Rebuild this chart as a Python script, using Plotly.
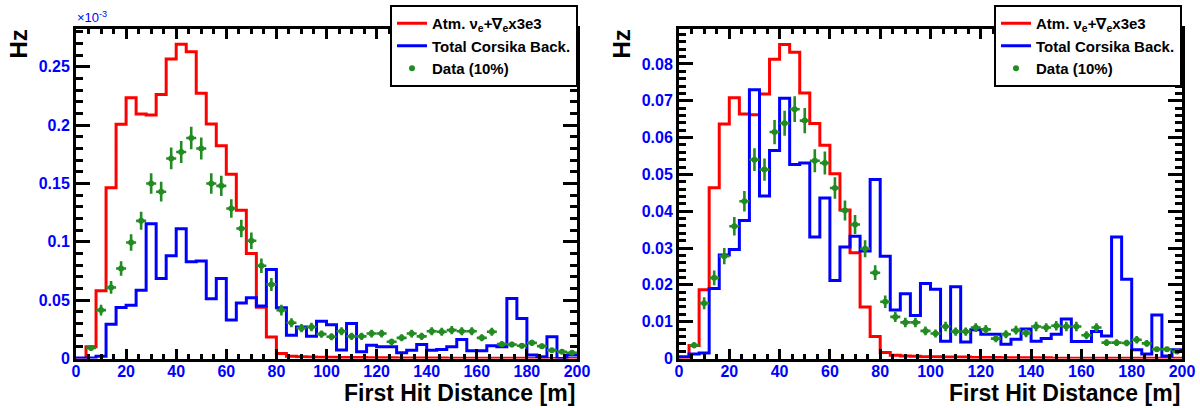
import plotly.graph_objects as go

# ---------------- data ----------------
bin_edges = list(range(0, 201, 4))            # 50 bins of 4 m
bin_centers = [e + 2 for e in bin_edges[:-1]]

left_atm = [0, 0.010, 0.058, 0.1464, 0.2007, 0.2236, 0.2095, 0.2087, 0.2264, 0.2567,
            0.2693, 0.263, 0.2273, 0.201, 0.1824, 0.158, 0.127, 0.090, 0.044, 0.0185,
            0.0043, 0.002, 0.0015, 0.0012, 0.0010, 0.0010, 0.0009, 0.0008, 0.0008, 0.0007,
            0.0006, 0.0006, 0.0005, 0.0005, 0.0004, 0.0004, 0.0004, 0.0003, 0.0003, 0.0003,
            0.0003, 0.0002, 0.0002, 0.0002, 0.0002, 0.0001, 0.0001, 0.0001, 0.0001, 0.0001]
left_corsika = [0.0005, 0.0005, 0.002, 0.0294, 0.0437, 0.0457, 0.0586, 0.1155, 0.0686, 0.088,
                0.1112, 0.0829, 0.0835, 0.0512, 0.0686, 0.0329, 0.0475, 0.052, 0.0449, 0.0763,
                0.0435, 0.020, 0.027, 0.019, 0.032, 0.029, 0.0072, 0.030, 0.0057, 0.0114,
                0.010, 0.010, 0.0049, 0.0071, 0.012, 0.0071, 0.0077, 0.010, 0.0163, 0.0066,
                0.0066, 0.011, 0.010, 0.0515, 0.0343, 0.0029, 0.0014, 0.0186, 0.0, 0.0029]
left_data = [None, 0.0091, 0.0415, 0.0609, 0.0772, 0.0995, 0.118, 0.150, 0.143, 0.1715,
             0.177, 0.189, 0.180, 0.150, 0.148, 0.1286, 0.1115, 0.101, 0.0795, 0.0635,
             0.0415, 0.0306, 0.026, 0.027, 0.0209, 0.0186, 0.0234, 0.019, 0.019, 0.0214,
             0.0214, 0.0143, 0.0177, 0.0214, 0.019, 0.0234, 0.0229, 0.0243, 0.0234, 0.0234,
             0.0177, 0.0229, 0.0123, 0.012, 0.0109, 0.0134, 0.0106, 0.0071, 0.0057, 0.0049]
left_data_err = [0, 0.0021, 0.0046, 0.0055, 0.0062, 0.0071, 0.0077, 0.0087, 0.0085, 0.0093,
                 0.0094, 0.0097, 0.0095, 0.0087, 0.0086, 0.0080, 0.0075, 0.0071, 0.0063, 0.0056,
                 0.0046, 0.0039, 0.0036, 0.0037, 0.0032, 0.0030, 0.0034, 0.0031, 0.0031, 0.0033,
                 0.0033, 0.0027, 0.0030, 0.0033, 0.0031, 0.0034, 0.0034, 0.0035, 0.0034, 0.0034,
                 0.0030, 0.0034, 0.0025, 0.0024, 0.0023, 0.0026, 0.0023, 0.0019, 0.0017, 0.0016]

right_atm = [0, 0.0035, 0.0187, 0.0464, 0.0637, 0.0708, 0.0664, 0.0662, 0.0718, 0.0813,
             0.0853, 0.0832, 0.0721, 0.0638, 0.0579, 0.0502, 0.0403, 0.0287, 0.014, 0.006,
             0.0016, 0.0009, 0.0007, 0.0006, 0.0005, 0.0005, 0.0004, 0.0004, 0.0004, 0.0003,
             0.0003, 0.0003, 0.0002, 0.0002, 0.0002, 0.0002, 0.0002, 0.0001, 0.0001, 0.0001,
             0.0001, 0.0001, 0.0001, 0.0001, 0.0001, 0.00005, 0.00005, 0.00005, 0.00005, 0.00005]
right_corsika = [0.0005, 0.0012, 0.0015, 0.019, 0.0281, 0.0296, 0.0375, 0.073, 0.0441, 0.0565,
                 0.0707, 0.0527, 0.0531, 0.033, 0.0436, 0.0212, 0.0303, 0.0332, 0.0292, 0.0486,
                 0.0278, 0.0132, 0.0176, 0.0117, 0.0204, 0.0188, 0.0047, 0.0195, 0.0045, 0.0078,
                 0.0066, 0.0066, 0.0039, 0.0052, 0.008, 0.0047, 0.0054, 0.0066, 0.0107, 0.0046,
                 0.0046, 0.0073, 0.0061, 0.033, 0.0215, 0.0024, 0.0012, 0.0118, 0.0007, 0.0024]
right_data = [None, 0.0036, 0.015, 0.0219, 0.0278, 0.0359, 0.0427, 0.054, 0.0513, 0.0615,
              0.0639, 0.0677, 0.0646, 0.0537, 0.0531, 0.0463, 0.0402, 0.0364, 0.0298, 0.0233,
              0.0154, 0.0113, 0.0098, 0.0098, 0.0075, 0.0068, 0.0087, 0.0073, 0.0073, 0.0084,
              0.0079, 0.0054, 0.0066, 0.0077, 0.0069, 0.0087, 0.0084, 0.0089, 0.0087, 0.0087,
              0.0063, 0.0084, 0.0043, 0.0043, 0.0042, 0.0051, 0.0041, 0.0025, 0.0025, 0.0019]
right_data_err = [0, 0.0008, 0.0016, 0.0020, 0.0022, 0.0025, 0.0028, 0.0031, 0.0030, 0.0033,
                  0.0034, 0.0035, 0.0034, 0.0031, 0.0031, 0.0029, 0.0027, 0.0026, 0.0023, 0.0020,
                  0.0017, 0.0014, 0.0013, 0.0013, 0.0012, 0.0011, 0.0013, 0.0011, 0.0011, 0.0012,
                  0.0012, 0.0010, 0.0011, 0.0012, 0.0011, 0.0013, 0.0012, 0.0013, 0.0013, 0.0013,
                  0.0011, 0.0012, 0.0009, 0.0009, 0.0009, 0.0010, 0.0009, 0.0007, 0.0007, 0.0006]

x_tick_step = 20
left_y_step = 0.05
right_y_step = 0.01
left_y_max = 0.2822
right_y_max = 0.0894

names = ["Atm. \u03bd<sub>e</sub>+\u2207<sub>e</sub>x3e3", "Total Corsika Back.", "Data (10%)"]

# ---------------- style ----------------
FONT = "Liberation Sans, Arial, Helvetica, sans-serif"
RED = "#ff0000"
BLUE = "#0000ff"
GREEN = "#228b22"
TICK_BLUE = "#0000ff"

fig = go.Figure()


def add_panel(atm, cors, data, err, xa, ya, legend):
    fig.add_trace(go.Scatter(x=bin_edges, y=atm + [atm[-1]], mode="lines", line_shape="hv",
                             line=dict(color=RED, width=3), name=names[0],
                             xaxis=xa, yaxis=ya, legend=legend))
    fig.add_trace(go.Scatter(x=bin_edges, y=cors + [cors[-1]], mode="lines", line_shape="hv",
                             line=dict(color=BLUE, width=3), name=names[1],
                             xaxis=xa, yaxis=ya, legend=legend))
    fig.add_trace(go.Scatter(x=bin_centers, y=data, mode="markers",
                             marker=dict(color=GREEN, size=6),
                             error_y=dict(type="data", array=err, color=GREEN, thickness=2.6, width=0),
                             error_x=dict(type="constant", value=2.0, color=GREEN, thickness=2.6, width=0),
                             name=names[2], xaxis=xa, yaxis=ya, legend=legend))


add_panel(left_atm, left_corsika, left_data, left_data_err, "x", "y", "legend")
add_panel(right_atm, right_corsika, right_data, right_data_err, "x2", "y2", "legend2")

W, H = 1200, 408
Y_DOM = [1 - 358.5 / H, 1 - 29.3 / H]


def xaxis(domain, anchor):
    return dict(domain=domain, anchor=anchor, range=[0, 200], dtick=x_tick_step, tick0=0,
                automargin=False, ticklabelstandoff=-4,
                showline=True, linecolor="black", linewidth=3, mirror="ticks",
                ticks="inside", ticklen=10, tickwidth=2.5, tickcolor="black",
                minor=dict(dtick=5, ticklen=5, tickwidth=2.5, ticks="inside", tickcolor="black"),
                tickfont=dict(family=FONT, size=16, color=TICK_BLUE, weight="bold"),
                showgrid=False, zeroline=False)


def yaxis(domain, anchor, ymax, step):
    return dict(domain=domain, anchor=anchor, range=[0, ymax], dtick=step, tick0=0,
                automargin=False,
                showline=True, linecolor="black", linewidth=3, mirror="ticks",
                ticks="inside", ticklen=14, tickwidth=2.5, tickcolor="black",
                minor=dict(dtick=step / 5, ticklen=7, tickwidth=2.5, ticks="inside", tickcolor="black"),
                tickfont=dict(family=FONT, size=16, color=TICK_BLUE, weight="bold"),
                showgrid=False, zeroline=False)


legend_style = dict(bgcolor="white", bordercolor="black", borderwidth=2,
                    font=dict(family=FONT, size=15, color="black", weight="bold"),
                    xanchor="right", yanchor="top", tracegroupgap=0, itemwidth=30)

fig.update_layout(
    width=W, height=H, margin=dict(l=0, r=0, t=0, b=0),
    paper_bgcolor="white", plot_bgcolor="white",
    xaxis=xaxis([76 / W, 577 / W], "y"),
    yaxis=yaxis(Y_DOM, "x", left_y_max, left_y_step),
    xaxis2=xaxis([679 / W, 1182 / W], "y2"),
    yaxis2=yaxis(Y_DOM, "x2", right_y_max, right_y_step),
    legend=dict(x=578 / W, y=1 - 5 / H, **legend_style),
    legend2=dict(x=1182 / W, y=1 - 5 / H, **legend_style),
    showlegend=True,
)

title_font = dict(family=FONT, size=23, color="black", weight="bold")
for xr, xc in [(577, 18), (1182, 621)]:
    fig.add_annotation(text="First Hit Distance [m]", xref="paper", yref="paper",
                       x=xr / W, y=1 - 393 / H, xanchor="right", yanchor="middle",
                       showarrow=False, font=title_font)
    fig.add_annotation(text="Hz", xref="paper", yref="paper", textangle=-90,
                       x=xc / W, y=1 - 28 / H, xanchor="center", yanchor="top",
                       showarrow=False, font=dict(family=FONT, size=24, color="black", weight="bold"))

fig.add_annotation(text="\u00d710<sup>-3</sup>", xref="paper", yref="paper",
                   x=75 / W, y=1 - 27 / H, xanchor="left", yanchor="bottom",
                   showarrow=False, font=dict(family=FONT, size=13, color=TICK_BLUE))

fig.write_html("out.html", config={"displayModeBar": False},
               post_script="document.body.style.margin='0';document.body.style.overflow='hidden';")
